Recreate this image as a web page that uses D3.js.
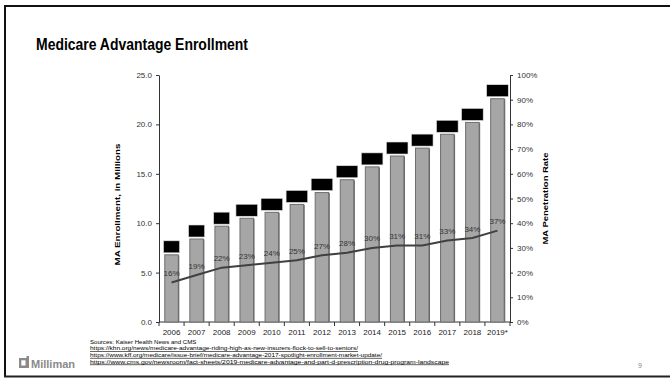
<!DOCTYPE html>
<html><head><meta charset="utf-8">
<script src="https://cdn.jsdelivr.net/npm/d3@7"></script>
<style>html,body{margin:0;padding:0;background:#fff;}svg{display:block;font-family:Arial,"Liberation Sans",sans-serif;}</style>
</head><body>
<svg id="c" width="670" height="379"></svg>
<script>
const years = ["2006","2007","2008","2009","2010","2011","2012","2013","2014","2015","2016","2017","2018","2019*"];
const enrollment = [6.8,8.4,9.7,10.5,11.1,11.9,13.1,14.4,15.7,16.8,17.6,19.0,20.2,22.6];
const penetration = [16,19,22,23,24,25,27,28,30,31,31,33,34,37];
const leftTicks = [0,5,10,15,20,25];
const rightTicks = [0,10,20,30,40,50,60,70,80,90,100];
const sources = [
 "https://khn.org/news/medicare-advantage-riding-high-as-new-insurers-flock-to-sell-to-seniors/",
 "https://www.kff.org/medicare/issue-brief/medicare-advantage-2017-spotlight-enrollment-market-update/",
 "https://www.cms.gov/newsroom/fact-sheets/2019-medicare-advantage-and-part-d-prescription-drug-program-landscape"
];
const sourceWidths = [268, 292, 359];

const svg = d3.select("#c");
// frame
svg.append("line").attr("x1",4).attr("x2",670).attr("y1",6).attr("y2",6).attr("stroke","#111").attr("stroke-width",2);
svg.append("line").attr("x1",5).attr("x2",5).attr("y1",5).attr("y2",377).attr("stroke","#111").attr("stroke-width",2);
svg.append("line").attr("x1",4).attr("x2",670).attr("y1",376.5).attr("y2",376.5).attr("stroke","#222").attr("stroke-width",2);

svg.append("text").attr("x",36).attr("y",50).attr("font-size",16.5).attr("font-weight","bold").attr("fill","#000")
  .attr("textLength",212).attr("lengthAdjust","spacingAndGlyphs")
  .text("Medicare Advantage Enrollment");

const L=159, R=510, T=75, B=322;
const x = d3.scaleBand().domain(years).range([L,R]).paddingInner(0.46).paddingOuter(0.23);
const yL = d3.scaleLinear().domain([0,25]).range([B,T]);
const yR = d3.scaleLinear().domain([0,100]).range([B,T]);

const axL = svg.append("g").attr("transform",`translate(${L},0)`)
  .call(d3.axisLeft(yL).tickValues(leftTicks).tickFormat(d3.format(".1f")).tickSize(3).tickSizeOuter(0));
const axR = svg.append("g").attr("transform",`translate(${R},0)`)
  .call(d3.axisRight(yR).tickValues(rightTicks).tickFormat(d=>d+"%").tickSize(3).tickSizeOuter(0));
[axL,axR].forEach(a=>{
  a.selectAll("path,line").attr("stroke","#333").attr("stroke-width",1);
  a.selectAll("text").attr("font-size",8).attr("fill","#333").attr("font-family","Arial, Liberation Sans, sans-serif");
});
axL.selectAll("text").attr("x",-7);
axR.selectAll("text").attr("x",7);

// x axis
svg.append("line").attr("x1",L).attr("x2",R).attr("y1",B).attr("y2",B).attr("stroke","#333");
const bounds = d3.range(years.length+1).map(i=>L + (R-L)*i/years.length);
svg.append("g").selectAll("line").data(bounds).join("line")
  .attr("x1",d=>d).attr("x2",d=>d).attr("y1",B).attr("y2",B+4).attr("stroke","#333");
svg.append("g").selectAll("text").data(years).join("text")
  .attr("x",d=>x(d)+x.bandwidth()/2).attr("y",B+13).attr("text-anchor","middle")
  .attr("font-size",8).attr("fill","#222").text(d=>d);

// bars
const data = years.map((y,i)=>({y, v:enrollment[i], p:penetration[i]}));
svg.append("g").selectAll("rect").data(data).join("rect")
  .attr("x",d=>x(d.y)+1).attr("y",d=>yL(d.v)+0.5).attr("width",x.bandwidth()).attr("height",d=>B-yL(d.v)-0.5)
  .attr("fill","#5f5f5f");
svg.append("g").selectAll("rect").data(data).join("rect")
  .attr("x",d=>x(d.y)).attr("y",d=>yL(d.v)).attr("width",x.bandwidth()).attr("height",d=>B-yL(d.v))
  .attr("fill","#a6a6a6").attr("stroke","#6e6e6e").attr("stroke-width",1);

// redaction boxes over data labels
svg.append("g").selectAll("rect").data(data).join("rect")
  .attr("x",d=>x(d.y)+x.bandwidth()/2 - (d.v>=10?10.8:8))
  .attr("y",d=>yL(d.v)-14)
  .attr("width",d=>d.v>=10?21.6:16).attr("height",12)
  .attr("fill","#000").attr("stroke","#ddd").attr("stroke-width",0.6);

// line
const line = d3.line().x(d=>x(d.y)+x.bandwidth()/2).y(d=>yR(d.p));
svg.append("path").datum(data).attr("d",line).attr("fill","none").attr("stroke","#404040").attr("stroke-width",2);
svg.append("g").selectAll("text").data(data).join("text")
  .attr("x",d=>x(d.y)+x.bandwidth()/2).attr("y",d=>yR(d.p)-6.5).attr("text-anchor","middle")
  .attr("font-size",8).attr("fill","#333").text(d=>d.p+"%");

// axis titles
svg.append("text").attr("transform",`translate(120,${(T+B)/2+6}) rotate(-90)`).attr("text-anchor","middle")
  .attr("font-size",7.5).attr("font-weight","bold").attr("fill","#000")
  .attr("textLength",122).attr("lengthAdjust","spacingAndGlyphs").text("MA Enrollment, in Millions");
svg.append("text").attr("transform",`translate(548,${(T+B)/2}) rotate(-90)`).attr("text-anchor","middle")
  .attr("font-size",7.5).attr("font-weight","bold").attr("fill","#000")
  .attr("textLength",92).attr("lengthAdjust","spacingAndGlyphs").text("MA Penetration Rate");

// sources
const src = svg.append("g").attr("font-size",6.1).attr("fill","#000");
src.append("text").attr("x",90).attr("y",343.5).text("Sources: Kaiser Health News and CMS");
sources.forEach((s,i)=>{
  src.append("text").attr("x",90).attr("y",350.3+i*6.6).attr("text-decoration","underline")
    .attr("textLength",sourceWidths[i]).attr("lengthAdjust","spacingAndGlyphs").text(s);
});

// logo
const gcol = "#8a8a8a";
const lg = svg.append("g");
lg.append("rect").attr("x",19).attr("y",358).attr("width",10).attr("height",10).attr("fill",gcol);
lg.append("rect").attr("x",21.3).attr("y",360.3).attr("width",4.2).attr("height",5.2).attr("fill","#fff");
lg.append("rect").attr("x",26.5).attr("y",356).attr("width",2.5).attr("height",2.2).attr("fill",gcol);
lg.append("text").attr("x",31).attr("y",368).attr("font-size",11).attr("font-weight","bold").attr("fill",gcol)
  .attr("textLength",44).attr("lengthAdjust","spacingAndGlyphs").text("Milliman");

svg.append("text").attr("x",638).attr("y",368).attr("font-size",7).attr("fill","#888").text("9");
</script>
</body></html>
